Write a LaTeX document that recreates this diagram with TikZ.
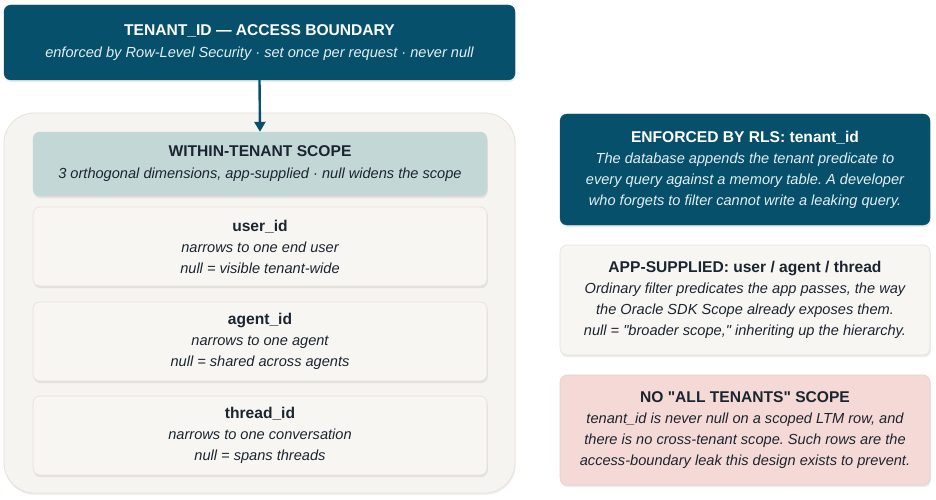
\documentclass[tikz,border=0pt]{standalone}
\usepackage{fontspec}
\setmainfont{Liberation Sans}
\usetikzlibrary{shadows,arrows.meta}
\frenchspacing
\definecolor{cteal}{HTML}{07506B}
\definecolor{csub}{HTML}{E3EEF2}
\definecolor{cscope}{HTML}{C4D7D7}
\definecolor{ccard}{HTML}{F8F6F3}
\definecolor{ccardline}{HTML}{E6E1D9}
\definecolor{couter}{HTML}{F6F4F0}
\definecolor{cpink}{HTML}{F5D9D7}
\definecolor{cpinkline}{HTML}{ECCDCA}
\definecolor{cink}{HTML}{1B2530}
\newcommand{\hd}[1]{{\bfseries\fontsize{15.6}{21}\selectfont #1}}
\newcommand{\hdw}[1]{{\color{white}\bfseries\fontsize{15.6}{21}\selectfont #1}}
\begin{document}
\frenchspacing
\begin{tikzpicture}[x=1pt,y=-1pt,
  shad/.style={drop shadow={opacity=0.16,shadow xshift=0.8pt,shadow yshift=-2.2pt}},
  box/.style={rounded corners=7pt,align=center,inner sep=0pt,shad,
    font=\fontsize{14.6}{21}\selectfont\frenchspacing},
  darkbox/.style={box,fill=cteal,draw=cteal,text=csub},
  cardbox/.style={box,fill=ccard,draw=ccardline,line width=0.6pt,text=cink},
  scopebox/.style={box,fill=cscope,draw=cscope,text=cink},
  pinkbox/.style={box,fill=cpink,draw=cpinkline,line width=0.6pt,text=cink},
  outerbox/.style={rounded corners=30pt,fill=couter,draw=ccardline,line width=0.8pt,
    drop shadow={opacity=0.12,shadow xshift=0.6pt,shadow yshift=-2pt}},
]
\useasboundingbox (0,0) rectangle (936,500);

\node[darkbox,minimum width=511pt,minimum height=75pt] (top) at (259.5,42.5)
  {\hdw{TENANT\_ID — ACCESS BOUNDARY}\\[1pt]{\itshape enforced by Row-Level Security · set once per request · never null}};

\node[outerbox,minimum width=511pt,minimum height=380pt] (outer) at (259.5,303) {};

\node[scopebox,minimum width=454pt,minimum height=64pt] (scope) at (260,164)
  {\hd{WITHIN-TENANT SCOPE}\\[1pt]{\itshape 3 orthogonal dimensions, app-supplied · null widens the scope}};

\node[cardbox,minimum width=454pt,minimum height=79pt] (user) at (260,246.5)
  {\hd{user\_id}\\{\itshape narrows to one end user}\\{\itshape null = visible tenant-wide}};
\node[cardbox,minimum width=454pt,minimum height=79pt] (agent) at (260,341.5)
  {\hd{agent\_id}\\{\itshape narrows to one agent}\\{\itshape null = shared across agents}};
\node[cardbox,minimum width=454pt,minimum height=79pt] (thread) at (260,435.5)
  {\hd{thread\_id}\\{\itshape narrows to one conversation}\\{\itshape null = spans threads}};

\draw[cteal,line width=2.4pt,-{Triangle[length=10pt,width=11pt]}] (top.south) -- (scope.north);

\node[darkbox,minimum width=370pt,minimum height=111pt] (rls) at (745,169.5)
  {\hdw{ENFORCED BY RLS: tenant\_id}\\{\itshape The database appends the tenant predicate to}\\{\itshape every query against a memory table. A developer}\\{\itshape who forgets to filter cannot write a leaking query.}};
\node[cardbox,minimum width=370pt,minimum height=110pt] (app) at (745,300)
  {\hd{APP-SUPPLIED: user / agent / thread}\\{\itshape Ordinary filter predicates the app passes, the way}\\{\itshape the Oracle SDK Scope already exposes them.}\\{\itshape null = \textquotedbl broader scope,\textquotedbl{} inheriting up the hierarchy.}};
\node[pinkbox,minimum width=370pt,minimum height=110pt] (none) at (745,430)
  {\hd{NO \textquotedbl ALL TENANTS\textquotedbl{} SCOPE}\\{\itshape tenant\_id is never null on a scoped LTM row, and}\\{\itshape there is no cross-tenant scope. Such rows are the}\\{\itshape access-boundary leak this design exists to prevent.}};
\end{tikzpicture}
\end{document}
